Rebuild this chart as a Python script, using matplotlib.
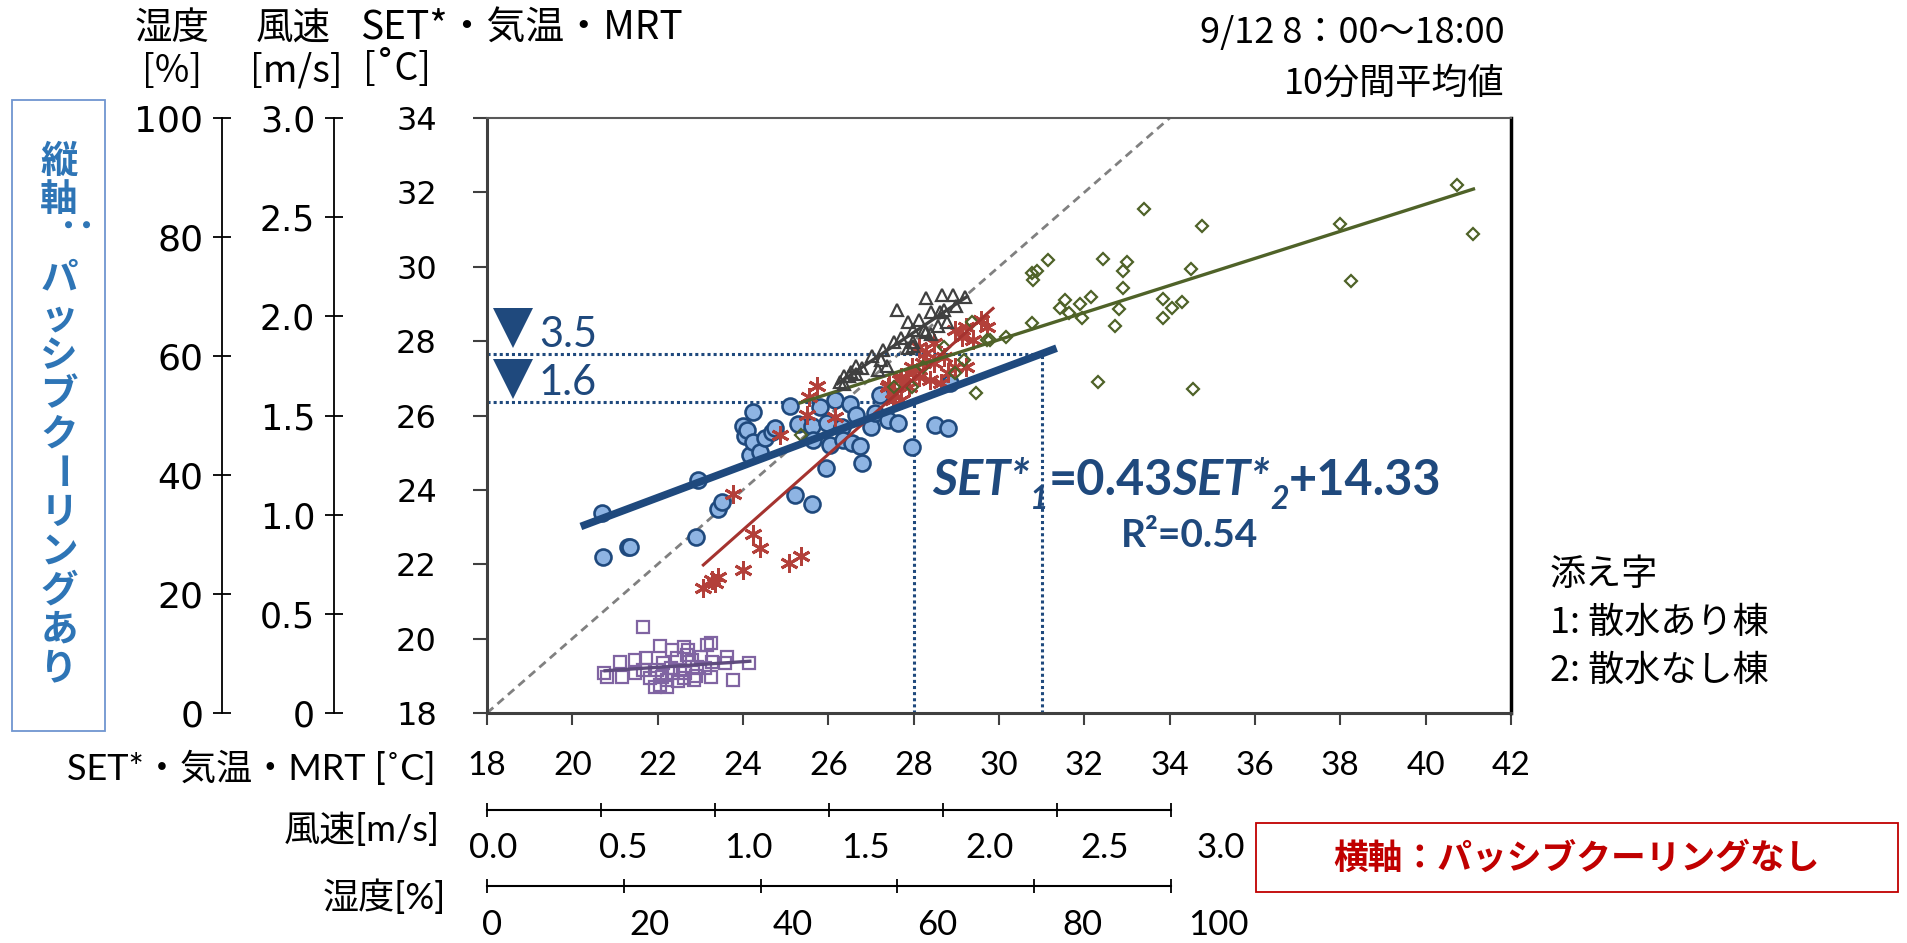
import matplotlib
matplotlib.use("Agg")
import matplotlib.pyplot as plt
from matplotlib.patches import Rectangle
from matplotlib.transforms import ScaledTranslation

plt.rcParams['font.family'] = ['Lato', 'Noto Sans CJK JP', 'DejaVu Sans']

# ---- data (horizontal: no passive cooling, vertical: with passive cooling) ----
# SET* [C]
set_x = [20.69, 20.73, 21.31, 21.35, 22.90, 22.95, 23.42, 23.50, 23.99, 24.05,
         24.09, 24.16, 24.24, 24.24, 24.40, 24.52, 24.67, 24.75, 25.10, 25.22,
         25.30, 25.61, 25.62, 25.65, 25.80, 25.94, 25.96, 26.04, 26.16, 26.31,
         26.35, 26.51, 26.55, 26.66, 26.74, 26.80, 27.01, 27.09, 27.21, 27.41,
         27.64, 27.95, 28.50, 28.81, 28.85]
set_y = [23.37, 22.19, 22.46, 22.47, 22.74, 24.27, 23.48, 23.68, 25.73, 25.46,
         25.61, 24.94, 26.10, 25.30, 25.03, 25.39, 25.56, 25.66, 26.26, 23.86,
         25.76, 25.73, 23.62, 25.34, 26.23, 24.60, 25.79, 25.21, 26.43, 25.70,
         25.34, 26.32, 25.25, 26.01, 25.19, 24.73, 25.70, 26.06, 26.55, 25.88,
         25.79, 25.16, 25.74, 25.66, 26.87]
# air temperature [C]
ta_x = [23.07, 23.27, 23.34, 23.42, 23.77, 23.99, 24.23, 24.41, 24.87, 25.08,
        25.35, 25.49, 25.54, 25.73, 26.15, 27.41, 27.42, 27.52, 27.55, 27.68,
        27.71, 27.71, 27.88, 27.96, 27.99, 28.13, 28.13, 28.22, 28.30, 28.38,
        28.47, 28.47, 28.63, 28.72, 28.80, 28.97, 28.97, 29.14, 29.22, 29.22,
        29.39, 29.57, 29.72]
ta_y = [21.35, 21.58, 21.50, 21.67, 23.90, 21.85, 22.81, 22.45, 25.48, 22.04,
        22.22, 26.01, 26.51, 26.79, 25.97, 26.77, 26.82, 26.42, 26.60, 26.95,
        27.04, 26.42, 26.77, 27.31, 27.13, 27.85, 27.04, 27.40, 27.67, 26.95,
        27.94, 27.40, 26.87, 27.58, 27.13, 28.30, 27.31, 28.12, 28.39, 27.31,
        28.03, 28.57, 28.39]
# MRT [C]
mrt_x = [25.37, 27.55, 27.96, 28.22, 28.71, 28.97, 29.18, 29.36, 29.45, 29.72,
         29.80, 30.16, 30.77, 30.77, 30.80, 30.88, 31.16, 31.43, 31.55, 31.63,
         31.90, 31.94, 32.16, 32.33, 32.44, 32.73, 32.81, 32.90, 32.90, 32.99,
         33.41, 33.85, 33.85, 34.06, 34.30, 34.49, 34.55, 34.75, 37.99, 38.24,
         40.73, 41.12]
mrt_y = [25.48, 26.77, 26.77, 27.31, 27.85, 27.13, 27.49, 28.52, 26.60, 28.03,
         28.03, 28.12, 28.48, 29.82, 29.64, 29.89, 30.18, 28.88, 29.10, 28.75,
         29.00, 28.61, 29.19, 26.91, 30.21, 28.41, 28.86, 29.88, 29.42, 30.12,
         31.55, 29.13, 28.63, 28.88, 29.06, 29.94, 26.70, 31.10, 31.15, 29.62,
         32.20, 30.87]
# humidity [%]
hum_x = [22.8, 19.5, 17.6, 19.8, 21.7, 25.3, 23.3, 24.9, 25.3, 26.3,
         27.1, 27.8, 28.8, 29.3, 30.0, 29.0, 30.3, 28.0, 32.2, 32.8,
         32.9, 32.8, 35.1, 34.9, 36.1, 38.4, 23.9, 25.8, 24.6, 27.1,
         30.8, 31.3, 28.3, 29.5, 17.1, 22.9, 21.7, 25.6, 26.9, 30.6,
         26.3, 28.8, 31.9]
hum_y = [14.5, 8.6, 6.1, 6.0, 8.9, 11.3, 9.2, 7.3, 4.7, 4.4,
         6.7, 9.2, 11.1, 9.8, 8.9, 6.7, 5.6, 5.3, 11.4, 11.7,
         8.6, 6.1, 9.4, 8.4, 5.6, 8.4, 5.8, 8.4, 4.4, 10.6,
         7.8, 9.4, 7.3, 10.6, 6.7, 7.3, 6.7, 6.1, 7.5, 6.3,
         5.6, 5.9, 7.5]
# wind speed [m/s]
wind_x = [1.55, 1.57, 1.57, 1.59, 1.60, 1.62, 1.65, 1.69, 1.72, 1.74,
          1.76, 1.79, 1.80, 1.85, 1.85, 1.87, 1.87, 1.90, 1.92, 1.93,
          1.93, 1.95, 1.95, 1.98, 1.99, 2.00, 2.01, 2.02, 2.05, 2.10,
          1.87, 1.62, 1.73, 1.82, 2.06]
wind_y = [1.67, 1.66, 1.70, 1.70, 1.72, 1.75, 1.74, 1.80, 1.73, 1.83,
          1.75, 1.87, 2.03, 1.84, 1.97, 1.93, 1.87, 1.98, 1.93, 2.09,
          1.92, 1.91, 2.02, 1.95, 2.02, 2.11, 2.03, 1.97, 2.11, 2.10,
          1.85, 1.71, 1.78, 1.89, 2.05]

# trend lines
set_slope, set_icpt = 0.43, 14.33
set_line_x = [20.2, 31.35]
ta_line_x, ta_line_y = [23.07, 29.86], [21.98, 28.88]
mrt_line_x, mrt_line_y = [25.34, 41.12], [26.34, 32.09]
hum_line_x, hum_line_y = [17.3, 38.5], [7.1, 8.7]
wind_line_x, wind_line_y = [1.54, 2.11], [1.66, 2.10]

ref_x = [28, 31]
ref_labels = ['1.6', '3.5']

set_ticks = list(range(18, 43, 2))
set_yticks = list(range(18, 35, 2))
hum_ticks = [0, 20, 40, 60, 80, 100]
wind_ticks = [0, 0.5, 1.0, 1.5, 2.0, 2.5, 3.0]

DARK_BLUE = '#1F497D'
JP = ['Noto Sans CJK JP', 'DejaVu Sans']
W, H = 1908, 943


def fx(px):
    return px / W


def fy(py):
    return 1 - py / H


fig = plt.figure(figsize=(W / 100, H / 100), dpi=100)

# ---- main axes ----
ax = fig.add_axes([fx(487), fy(713), fx(1511) - fx(487), fy(118) - fy(713)])
ax.set_xlim(18, 42)
ax.set_ylim(18, 34)
ax.set_xticks(set_ticks)
ax.set_yticks(set_yticks)
ax.tick_params(axis='x', direction='out', length=8.5, width=1.5, color='#404040',
               pad=19, labelsize=24)
ax.tick_params(axis='y', direction='out', length=10, width=1.5, color='#404040',
               pad=26, labelsize=23)
for t in ax.get_yticklabels():
    t.set_fontfamily('DejaVu Sans')
for s in ['left', 'bottom']:
    ax.spines[s].set_linewidth(2.2)
    ax.spines[s].set_color('#404040')
ax.spines['top'].set_linewidth(1.5)
ax.spines['top'].set_color('#595959')
ax.spines['right'].set_linewidth(2.5)
ax.spines['right'].set_color('black')

# 1:1 line
ax.plot([18, 34], [18, 34], color='#808080', lw=2, ls=(0, (3, 2)), zorder=1)

# reference lines with the SET* difference marks
for rx, lab, tri_up in zip(ref_x, ref_labels, [23, 26]):
    ry = set_slope * rx + set_icpt
    ax.plot([18, rx], [ry, ry], color=DARK_BLUE, lw=2.2, ls=(0, (1, 1)), zorder=1.5)
    ax.plot([rx, rx], [18, ry], color=DARK_BLUE, lw=2.2, ls=(0, (1, 1)), zorder=1.5)
    off = ScaledTranslation(26.5 / 100, tri_up / 100, fig.dpi_scale_trans)
    ax.plot([18], [ry], marker='v', ms=29, mew=0, color=DARK_BLUE, ls='none',
            transform=ax.transData + off, clip_on=False, zorder=6)
    ax.annotate(lab, xy=(18, ry), xytext=(52 * 0.72, 7 * 0.72), textcoords='offset points',
                ha='left', va='baseline', fontsize=30, color=DARK_BLUE)

ax.plot(set_x, set_y, 'o', ms=11.5, mfc='#8EB4E3', mec=DARK_BLUE, mew=1.9, zorder=2)
ax.plot(ta_x, ta_y, ls='none', marker=(6, 2, 0), ms=13, mec='#B3403A', mew=2.1, zorder=3)
ax.plot(mrt_x, mrt_y, 'D', ms=6.5, mfc='none', mec='#4F6228', mew=1.6, zorder=3)
ax.plot(ta_line_x, ta_line_y, color='#A5332F', lw=2.2, zorder=4)
ax.plot(mrt_line_x, mrt_line_y, color='#4F6228', lw=2.4, zorder=4)
ax.plot(set_line_x, [set_slope * x + set_icpt for x in set_line_x], color=DARK_BLUE,
        lw=5.5, zorder=5, solid_capstyle='butt')

# ---- overlay axes for humidity and wind (same square scaling 0-100 / 0-3 -> 18-34) ----
pos = ax.get_position()
axh = fig.add_axes(pos, facecolor='none')
axh.set_xlim(0, (42 - 18) / 16 * 100)
axh.set_ylim(0, 100)
axh.axis('off')
axh.plot(hum_x, hum_y, 's', ms=8.5, mfc='none', mec='#8064A2', mew=1.6)
axh.plot(hum_line_x, hum_line_y, color='#5F4B7E', lw=2.4)

axw = fig.add_axes(pos, facecolor='none')
axw.set_xlim(0, (42 - 18) / 16 * 3)
axw.set_ylim(0, 3)
axw.axis('off')
axw.plot(wind_x, wind_y, '^', ms=8.5, mfc='none', mec='#404040', mew=1.6)
axw.plot(wind_line_x, wind_line_y, color='#404040', lw=2.4)


def side_axis(x_px, lim, ticks, labels, size):
    a = fig.add_axes([fx(x_px), fy(713), 0.0005, fy(118) - fy(713)], facecolor='none')
    a.set_ylim(*lim)
    a.set_yticks(ticks)
    a.set_yticklabels(labels, fontfamily='DejaVu Sans')
    a.set_xticks([])
    for s in ['top', 'right', 'bottom']:
        a.spines[s].set_visible(False)
    a.spines['left'].set_linewidth(1.3)
    a.tick_params(axis='y', direction='inout', length=13, width=1.3, pad=7, labelsize=size)
    return a


side_axis(222, (0, 100), hum_ticks, [str(v) for v in hum_ticks], 26)
side_axis(334, (0, 3), wind_ticks, ['0'] + ['%.1f' % v for v in wind_ticks[1:]], 25)


def bottom_axis(y_px, lim, ticks):
    a = fig.add_axes([fx(487), fy(y_px), fx(1171) - fx(487), 0.0005], facecolor='none')
    a.set_xlim(*lim)
    a.set_xticks(ticks)
    a.set_xticklabels([])
    a.set_yticks([])
    for s in ['top', 'right', 'left']:
        a.spines[s].set_visible(False)
    a.spines['bottom'].set_linewidth(1.5)
    a.tick_params(axis='x', direction='inout', length=10, width=1.3)
    return a


bottom_axis(810, (0, 3), wind_ticks)
bottom_axis(886, (0, 100), hum_ticks)

wind_label_px = [493, 623, 748, 865, 990, 1105, 1221]
hum_label_px = [492, 650, 793, 937, 1082, 1218]
for v, px in zip(wind_ticks, wind_label_px):
    fig.text(fx(px), fy(848), '%.1f' % v, ha='center', va='center', fontsize=25)
for v, px in zip(hum_ticks, hum_label_px):
    fig.text(fx(px), fy(925), str(v), ha='center', va='center', fontsize=25)

fig.text(fx(436), fy(768), 'SET*・気温・MRT [˚C]', ha='right', va='center', fontsize=26)
fig.text(fx(440), fy(830), '風速[m/s]', ha='right', va='center', fontsize=26)
fig.text(fx(446), fy(897), '湿度[%]', ha='right', va='center', fontsize=26)

# ---- header labels ----
hdr = dict(ha='center', va='center', fontsize=27, family=JP)
fig.text(fx(172), fy(29), '湿度', **hdr)
fig.text(fx(172), fy(71), '[%]', **hdr)
fig.text(fx(293), fy(29), '風速', **hdr)
fig.text(fx(296), fy(71), '[m/s]', **hdr)
fig.text(fx(397), fy(69), '[˚C]', **hdr)
fig.text(fx(360), fy(29), 'SET*・気温・MRT', ha='left', va='center', fontsize=28, family=JP)

fig.text(fx(1505), fy(33), '9/12 8：00～18:00', ha='right', va='center', fontsize=26,
         family=JP)
fig.text(fx(1505), fy(84), '10分間平均値', ha='right', va='center', fontsize=26, family=JP)

fig.text(fx(1550), fy(623), '添え字\n1: 散水あり棟\n2: 散水なし棟', ha='left', va='center',
         fontsize=26, family=JP, linespacing=1.42)

# ---- vertical label box ----
fig.patches.append(Rectangle((fx(12), fy(731)), fx(105) - fx(12), fy(100) - fy(731),
                             transform=fig.transFigure, fill=False, ec='#6F95D0', lw=1.3))
for i, ch in enumerate('縦軸：パッシブクーリングあり'):
    rot = -90 if ch in 'ー：' else 0
    fig.text(fx(59), fy(161 + i * 39), ch, ha='center', va='center', rotation=rot,
             fontsize=27, fontweight='bold', color='#2E75B6', family=JP)

# ---- horizontal label box ----
fig.patches.append(Rectangle((fx(1256), fy(892)), fx(1898) - fx(1256), fy(823) - fy(892),
                             transform=fig.transFigure, fill=False, ec='#C00000', lw=1.3))
fig.text(fx(1577), fy(858), '横軸：パッシブクーリングなし', ha='center', va='center',
         fontsize=25, fontweight='bold', color='#C00000', family=JP)

# ---- regression equation ----
renderer = fig.canvas.get_renderer()
x_cur = 932
parts = [('SET*', 'italic', 35, 0), ('1', 'italic', 23, 14), ('=0.43', 'normal', 35, 0),
         ('SET*', 'italic', 35, 0), ('2', 'italic', 23, 14), ('+14.33', 'normal', 35, 0)]
for s, style, size, dy in parts:
    t = fig.text(fx(x_cur), fy(495 + dy), s, ha='left', va='baseline', fontsize=size,
                 fontstyle=style, fontweight='bold', color=DARK_BLUE, family='Lato')
    x_cur += t.get_window_extent(renderer).width
fig.text(fx(1121), fy(547), 'R²=0.54', ha='left', va='baseline', fontsize=28,
         fontweight='bold', color=DARK_BLUE, family='Lato')

fig.savefig('out.png', dpi=100)
